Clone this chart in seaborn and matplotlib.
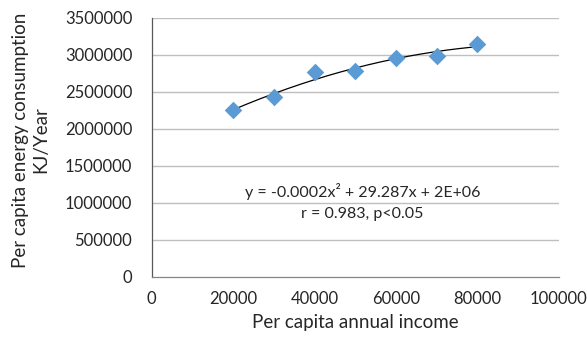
import numpy as np
import pandas as pd
import matplotlib
matplotlib.use("Agg")
import matplotlib.pyplot as plt
import seaborn as sns

income = [20000, 30000, 40000, 50000, 60000, 70000, 80000]
energy = [2253000, 2429000, 2763000, 2781000, 2956000, 2983000, 3146000]
x_ticks = [0, 20000, 40000, 60000, 80000, 100000]
y_ticks = [0, 500000, 1000000, 1500000, 2000000, 2500000, 3000000, 3500000]
equation = "y = -0.0002x² + 29.287x + 2E+06"
stats_text = "r = 0.983, p<0.05"

sns.set_style("white")
plt.rcParams['font.family'] = ['Lato', 'DejaVu Sans']

df = pd.DataFrame({"income": income, "energy": energy})

fig = plt.figure(figsize=(5.87, 3.38), dpi=100)
ax = fig.add_axes([0.2585, 0.1814, 0.6935, 0.7662])

for yv in y_ticks[1:]:
    ax.axhline(yv, color="#bfbfbf", lw=1, zorder=0)

coef = np.polyfit(df["income"], df["energy"], 2)
xs = np.linspace(min(income), max(income), 200)
ax.plot(xs, np.polyval(coef, xs), color="black", lw=0.9, zorder=2)

sns.scatterplot(data=df, x="income", y="energy", ax=ax, marker="D", s=80,
                color="#5b9bd5", edgecolor="#5b9bd5", linewidth=0, zorder=3)

ax.set_xlim(0, 100000)
ax.set_ylim(0, 3500000)
ax.set_xticks(x_ticks)
ax.set_yticks(y_ticks)
ax.set_xticklabels([str(v) for v in x_ticks])
ax.set_yticklabels([str(v) for v in y_ticks])
ax.tick_params(axis="both", labelsize=12, length=4, width=0.8, color="#868686",
               direction="out")
ax.tick_params(axis="y", pad=10)
ax.tick_params(axis="x", pad=6)

for side in ["top", "right"]:
    ax.spines[side].set_visible(False)
ax.spines["left"].set_color("#595959")
ax.spines["bottom"].set_color("#868686")
ax.spines["left"].set_linewidth(0.9)
ax.spines["bottom"].set_linewidth(0.9)

ax.set_xlabel("Per capita annual income", fontsize=13.5)
ax.xaxis.set_label_coords(0.5, -0.178)
ax.xaxis.label.set_va("center")
ax.set_ylabel("Per capita energy consumption\nKJ/Year", fontsize=13.5,
              linespacing=1.2)
ax.yaxis.set_label_coords(-0.2976, 0.528)
ax.yaxis.label.set_va("center")

ax.text(51800, 1149000, equation, ha="center", va="center", fontsize=11.5)
ax.text(51800, 848000, stats_text, ha="center", va="center", fontsize=11.5)

fig.savefig("out.png", dpi=100)
